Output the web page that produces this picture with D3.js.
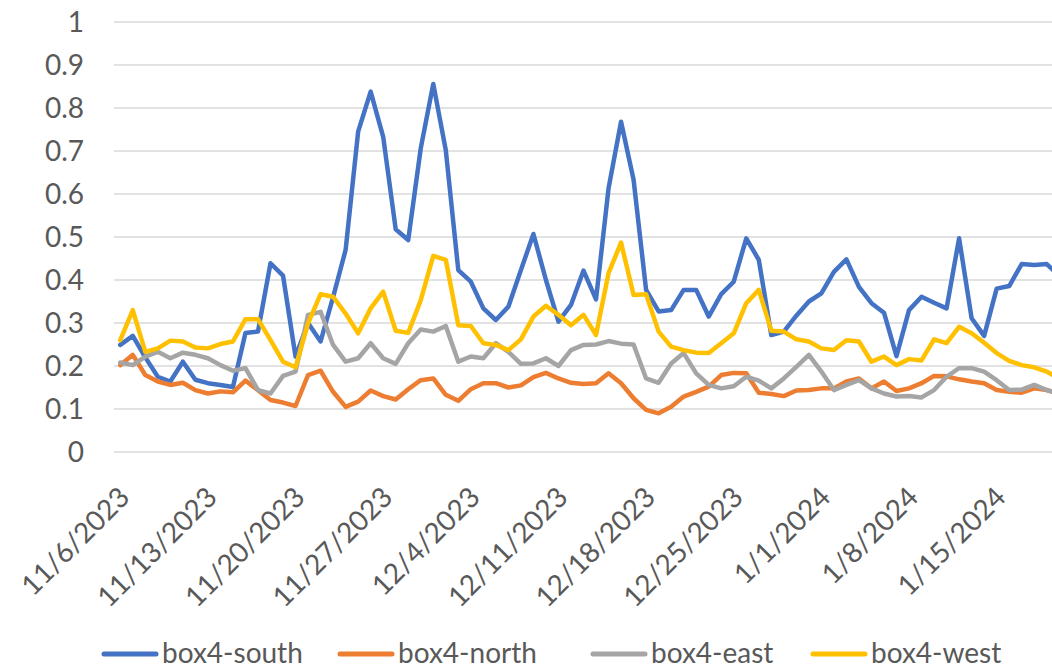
<!DOCTYPE html>
<html>
<head>
<meta charset="utf-8">
<script src="https://cdn.jsdelivr.net/npm/d3@7"></script>
<style>
  body { margin: 0; background: #fff; }
  svg text { font-family: Lato, "Open Sans", sans-serif; fill: #595959; }
</style>
</head>
<body>
<div id="chart"></div>
<script>
// daily readings, 11/6/2023 .. 1/20/2024
var startDate = new Date(2023, 10, 6)

var south = [0.249, 0.27, 0.22, 0.175, 0.164, 0.21, 0.168, 0.16, 0.156, 0.151,
  0.277, 0.28, 0.439, 0.41, 0.222, 0.30, 0.257, 0.36, 0.47, 0.745,
  0.838, 0.733, 0.518, 0.493, 0.706, 0.856, 0.702, 0.423, 0.396, 0.334,
  0.307, 0.338, 0.423, 0.507, 0.40, 0.303, 0.342, 0.422, 0.355, 0.613,
  0.768, 0.633, 0.377, 0.327, 0.33, 0.377, 0.377, 0.315, 0.367, 0.396,
  0.497, 0.447, 0.272, 0.28, 0.317, 0.35, 0.369, 0.419, 0.448, 0.384,
  0.346, 0.324, 0.223, 0.33, 0.361, 0.347, 0.334, 0.497, 0.311, 0.27,
  0.38, 0.386, 0.437, 0.435, 0.437, 0.41]

var north = [0.202, 0.226, 0.179, 0.164, 0.156, 0.161, 0.144, 0.136, 0.141, 0.139,
  0.166, 0.144, 0.121, 0.115, 0.107, 0.179, 0.189, 0.14, 0.105, 0.117,
  0.143, 0.13, 0.122, 0.146, 0.167, 0.171, 0.133, 0.119, 0.146, 0.16,
  0.16, 0.15, 0.155, 0.174, 0.184, 0.171, 0.161, 0.158, 0.16, 0.183,
  0.16, 0.125, 0.098, 0.09, 0.105, 0.129, 0.14, 0.152, 0.179, 0.184,
  0.183, 0.138, 0.135, 0.13, 0.143, 0.144, 0.148, 0.148, 0.164, 0.171,
  0.148, 0.164, 0.142, 0.148, 0.16, 0.177, 0.176, 0.169, 0.164, 0.16,
  0.144, 0.14, 0.138, 0.148, 0.144, 0.135]

var east = [0.208, 0.202, 0.222, 0.233, 0.218, 0.231, 0.226, 0.218, 0.202, 0.189,
  0.195, 0.144, 0.136, 0.177, 0.187, 0.319, 0.326, 0.249, 0.21, 0.218,
  0.253, 0.218, 0.205, 0.253, 0.285, 0.28, 0.293, 0.21, 0.222, 0.218,
  0.253, 0.233, 0.205, 0.206, 0.218, 0.20, 0.237, 0.249, 0.25, 0.258,
  0.252, 0.25, 0.171, 0.161, 0.206, 0.23, 0.183, 0.156, 0.148, 0.153,
  0.175, 0.166, 0.148, 0.171, 0.198, 0.226, 0.187, 0.144, 0.156, 0.167,
  0.148, 0.136, 0.129, 0.13, 0.127, 0.144, 0.175, 0.195, 0.195, 0.187,
  0.167, 0.144, 0.145, 0.156, 0.144, 0.135]

var west = [0.26, 0.33, 0.233, 0.241, 0.259, 0.257, 0.243, 0.241, 0.251, 0.257,
  0.309, 0.309, 0.26, 0.21, 0.197, 0.299, 0.367, 0.361, 0.322, 0.276,
  0.334, 0.373, 0.282, 0.277, 0.353, 0.456, 0.447, 0.295, 0.293, 0.253,
  0.249, 0.237, 0.262, 0.315, 0.34, 0.319, 0.295, 0.319, 0.272, 0.416,
  0.487, 0.365, 0.367, 0.28, 0.245, 0.237, 0.231, 0.23, 0.253, 0.276,
  0.346, 0.377, 0.282, 0.28, 0.262, 0.257, 0.241, 0.237, 0.26, 0.257,
  0.21, 0.222, 0.202, 0.216, 0.213, 0.262, 0.253, 0.291, 0.276, 0.254,
  0.23, 0.212, 0.202, 0.197, 0.187, 0.17]

var seriesNames = ["box4-south", "box4-north", "box4-east", "box4-west"]
var seriesColors = ["#4472C4", "#ED7D31", "#A5A5A5", "#FFC000"]
var yTicks = [0, 0.1, 0.2, 0.3, 0.4, 0.5, 0.6, 0.7, 0.8, 0.9, 1]
var xTickLabels = ["11/6/2023", "11/13/2023", "11/20/2023", "11/27/2023", "12/4/2023",
  "12/11/2023", "12/18/2023", "12/25/2023", "1/1/2024", "1/8/2024", "1/15/2024"]

var width = 1052,
    height = 670

var dates = d3.timeDay.range(startDate, d3.timeDay.offset(startDate, south.length))
var allSeries = [south, north, east, west]

// date axis, each point sits in the middle of its day slot
var x = d3.scaleTime()
  .domain([d3.timeHour.offset(dates[0], -12), d3.timeHour.offset(dates[dates.length - 1], 12)])
  .range([114, 114 + dates.length * 12.52])

var y = d3.scaleLinear()
  .domain([0, 1])
  .range([452, 22])

var svg = d3.select("#chart")
  .append("svg")
    .attr("width", width)
    .attr("height", height)

// gridlines
svg.append("g")
  .selectAll("line")
  .data(yTicks)
  .enter()
  .append("line")
    .attr("x1", x.range()[0])
    .attr("x2", x.range()[1])
    .attr("y1", function(d) { return y(d) })
    .attr("y2", function(d) { return y(d) })
    .attr("stroke", "#d9d9d9")
    .attr("stroke-width", 1.5)

// y axis labels
var yAxis = d3.axisLeft(y)
  .tickValues(yTicks)
  .tickSize(0)
  .tickPadding(0)
  .tickFormat(d3.format("~g"))

svg.append("g")
    .attr("transform", "translate(84,0)")
    .call(yAxis)
    .call(function(g) { g.select(".domain").remove() })
  .selectAll("text")
    .attr("font-size", 28)
    .attr("font-family", null)
    .attr("fill", null)
    .attr("dy", "0.35em")

// x axis labels, rotated
var tickDates = xTickLabels.map(function(s) {
  var p = s.split("/")
  return new Date(+p[2], +p[0] - 1, +p[1])
})

var xAxis = d3.axisBottom(x)
  .tickValues(tickDates)
  .tickSize(0)
  .tickFormat(function(d, i) { return xTickLabels[i] })

svg.append("g")
    .attr("transform", "translate(0,0)")
    .call(xAxis)
    .call(function(g) { g.select(".domain").remove() })
  .selectAll(".tick")
    .attr("transform", function(d) { return "translate(" + (x(d) + 4) + ",492)" })
  .select("text")
    .attr("font-size", 28)
    .attr("font-family", null)
    .attr("fill", null)
    .attr("y", 0)
    .attr("dy", "0.35em")
    .attr("text-anchor", "end")
    .attr("transform", "rotate(-45)")

// lines
var line = d3.line()
  .x(function(d, i) { return x(dates[i]) })
  .y(function(d) { return y(d) })

svg.append("g")
  .selectAll("path")
  .data(allSeries)
  .enter()
  .append("path")
    .attr("d", line)
    .attr("fill", "none")
    .attr("stroke", function(d, i) { return seriesColors[i] })
    .attr("stroke-width", 4.5)
    .attr("stroke-linejoin", "round")
    .attr("stroke-linecap", "round")

// legend
var legendX = [104, 340, 593, 813]
var legend = svg.append("g")
  .selectAll("g")
  .data(seriesNames)
  .enter()
  .append("g")
    .attr("transform", function(d, i) { return "translate(" + legendX[i] + ",654)" })

legend.append("line")
    .attr("x1", 0)
    .attr("x2", 52)
    .attr("stroke", function(d, i) { return seriesColors[i] })
    .attr("stroke-width", 5)
    .attr("stroke-linecap", "round")

legend.append("text")
    .attr("x", 58)
    .attr("y", 9)
    .attr("font-size", 28)
    .text(function(d) { return d })
</script>
</body>
</html>
